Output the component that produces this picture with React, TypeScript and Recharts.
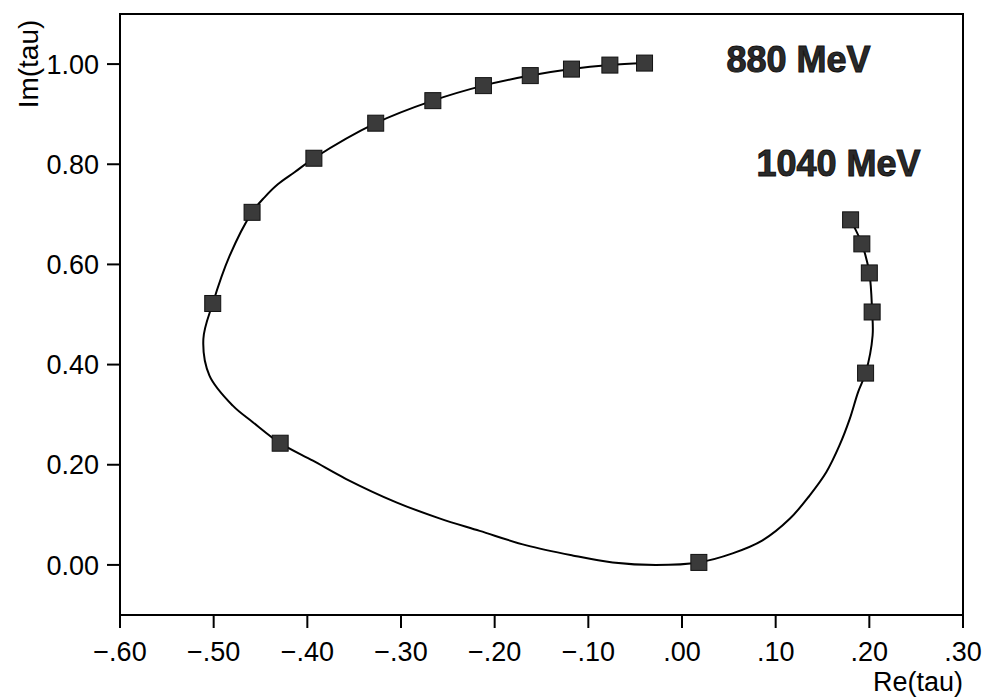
import React from 'react';
import { ScatterChart, Scatter, XAxis, YAxis, ReferenceArea } from 'recharts';

// Measured points (squares), ordered from 880 MeV to 1040 MeV
const markerRe = [-0.040, -0.077, -0.118, -0.162, -0.212, -0.266, -0.327, -0.393, -0.459, -0.501, -0.429, 0.018, 0.196, 0.203, 0.200, 0.192, 0.180];
const markerIm = [1.002, 0.998, 0.990, 0.977, 0.957, 0.927, 0.882, 0.812, 0.704, 0.522, 0.243, 0.005, 0.383, 0.505, 0.583, 0.641, 0.689];

// Smooth curve (same order)
const curveRe = [-0.040, -0.077, -0.118, -0.162, -0.212, -0.266, -0.327, -0.393, -0.4137, -0.4315, -0.4457, -0.459, -0.483, -0.501, -0.511, -0.5045, -0.4796, -0.4582, -0.429, -0.394, -0.359, -0.305, -0.259, -0.216, -0.166, -0.117, -0.074, -0.028, 0.018, 0.054, 0.086, 0.115, 0.136, 0.154, 0.168, 0.179, 0.188, 0.196, 0.2035, 0.203, 0.200, 0.192, 0.180];
const curveIm = [1.002, 0.998, 0.990, 0.977, 0.957, 0.927, 0.882, 0.812, 0.784, 0.760, 0.734, 0.704, 0.617, 0.522, 0.451, 0.378, 0.318, 0.285, 0.243, 0.208, 0.172, 0.125, 0.093, 0.068, 0.039, 0.019, 0.005, 0.000, 0.005, 0.023, 0.049, 0.092, 0.138, 0.185, 0.238, 0.291, 0.345, 0.383, 0.458, 0.505, 0.583, 0.641, 0.689];

const xTicks = [-0.6, -0.5, -0.4, -0.3, -0.2, -0.1, 0, 0.1, 0.2, 0.3];
const yTicks = [0, 0.2, 0.4, 0.6, 0.8, 1.0];

const annotationText = ['880 MeV', '1040 MeV'];
const annotationRe = [0.0475, 0.0795];
const annotationIm = [0.984, 0.776];

const markers = markerRe.map((x, i) => ({ x, y: markerIm[i] }));
const curve = curveRe.map((x, i) => ({ x, y: curveIm[i] }));
const annotations = annotationText.map((t, i) => ({ x: annotationRe[i], y: annotationIm[i], t }));

const FONT = '"Liberation Sans", Arial, Helvetica, sans-serif';

const fmtX = (v: number) => {
  const s = Math.abs(v).toFixed(2).replace(/^0/, '');
  return v < -1e-9 ? '\u2212' + s : s;
};
const fmtY = (v: number) => v.toFixed(2);

// centripetal Catmull-Rom path through the library-computed pixel points
function catmullRomPath(pts: { x: number; y: number }[]) {
  if (!pts.length) return '';
  const alpha = 0.5;
  const eps = 1e-6;
  let d = `M${pts[0].x},${pts[0].y}`;
  for (let i = 0; i < pts.length - 1; i++) {
    const p0 = pts[i - 1] || pts[i];
    const p1 = pts[i];
    const p2 = pts[i + 1];
    const p3 = pts[i + 2] || pts[i + 1];
    const dist = (a: any, b: any) => Math.hypot(b.x - a.x, b.y - a.y);
    const l01 = dist(p0, p1), l12 = dist(p1, p2), l23 = dist(p2, p3);
    const l01a = Math.pow(l01, alpha), l01_2a = Math.pow(l01, 2 * alpha);
    const l12a = Math.pow(l12, alpha), l12_2a = Math.pow(l12, 2 * alpha);
    const l23a = Math.pow(l23, alpha), l23_2a = Math.pow(l23, 2 * alpha);
    let c1x = p1.x, c1y = p1.y, c2x = p2.x, c2y = p2.y;
    if (l01a > eps) {
      const a = 2 * l01_2a + 3 * l01a * l12a + l12_2a;
      const n = 3 * l01a * (l01a + l12a);
      c1x = (p1.x * a - p0.x * l12_2a + p2.x * l01_2a) / n;
      c1y = (p1.y * a - p0.y * l12_2a + p2.y * l01_2a) / n;
    }
    if (l23a > eps) {
      const b = 2 * l23_2a + 3 * l23a * l12a + l12_2a;
      const m = 3 * l23a * (l23a + l12a);
      c2x = (p2.x * b + p1.x * l23_2a - p3.x * l12_2a) / m;
      c2y = (p2.y * b + p1.y * l23_2a - p3.y * l12_2a) / m;
    }
    d += ` C${c1x},${c1y} ${c2x},${c2y} ${p2.x},${p2.y}`;
  }
  return d;
}

const SmoothLine = (props: any) => {
  const pts = (props.points || []).map((p: any) => ({ x: p.x ?? p.cx, y: p.y ?? p.cy }));
  return <path d={catmullRomPath(pts)} fill="none" stroke="#000" strokeWidth={2} />;
};

const Square = (p: any) => (
  <rect x={p.cx - 8} y={p.cy - 8} width={16} height={16} fill="#3a3a3a" stroke="#111" strokeWidth={1} />
);
const NoShape = () => <g />;
const AnnText = (p: any) => (
  <text x={p.cx} y={p.cy} fontFamily={FONT} fontWeight="bold" fontSize={36} fill="#2a2a2a" stroke="#111" strokeWidth={1}>
    {p.payload.t}
  </text>
);

export default function App() {
  return (
    <div style={{ position: 'absolute', left: 0, top: 0, background: '#fff' }}>
      <ScatterChart width={988} height={700} margin={{ top: 14, right: 25, bottom: 0, left: 0 }}>
        <XAxis
          type="number"
          dataKey="x"
          domain={[-0.6, 0.3]}
          ticks={xTicks}
          allowDataOverflow
          tickFormatter={fmtX}
          height={85}
          tickSize={13}
          tickMargin={14}
          axisLine={{ stroke: '#000', strokeWidth: 2 }}
          tickLine={{ stroke: '#000', strokeWidth: 2 }}
          tick={{ fill: '#000', fontSize: 27, fontFamily: FONT }}
          label={(props: any) => {
            const vb = props.viewBox;
            return (
              <text x={vb.x + vb.width} y={vb.y + 76} textAnchor="end" fontFamily={FONT} fontSize={27} fill="#000">
                Re(tau)
              </text>
            );
          }}
        />
        <YAxis
          type="number"
          dataKey="y"
          domain={[-0.1, 1.1]}
          ticks={yTicks}
          allowDataOverflow
          tickFormatter={fmtY}
          width={120}
          tickSize={13}
          tickMargin={8}
          axisLine={{ stroke: '#000', strokeWidth: 2 }}
          tickLine={{ stroke: '#000', strokeWidth: 2 }}
          tick={{ fill: '#000', fontSize: 27, fontFamily: FONT }}
          label={(props: any) => {
            const vb = props.viewBox;
            const cx = vb.x + 38;
            const cy = vb.y + 50;
            return (
              <text x={cx} y={cy} transform={`rotate(-90, ${cx}, ${cy})`} textAnchor="middle" fontFamily={FONT} fontSize={28} fill="#000">
                Im(tau)
              </text>
            );
          }}
        />
        <ReferenceArea x1={-0.6} x2={0.3} y1={-0.1} y2={1.1} fill="none" fillOpacity={0} stroke="#000" strokeWidth={2} />
        <Scatter
          data={curve}
          shape={NoShape}
          line={SmoothLine}
          lineJointType="linear"
          isAnimationActive={false}
        />
        <Scatter data={markers} shape={Square} isAnimationActive={false} />
        <Scatter data={annotations} shape={AnnText} isAnimationActive={false} />
      </ScatterChart>
    </div>
  );
}
